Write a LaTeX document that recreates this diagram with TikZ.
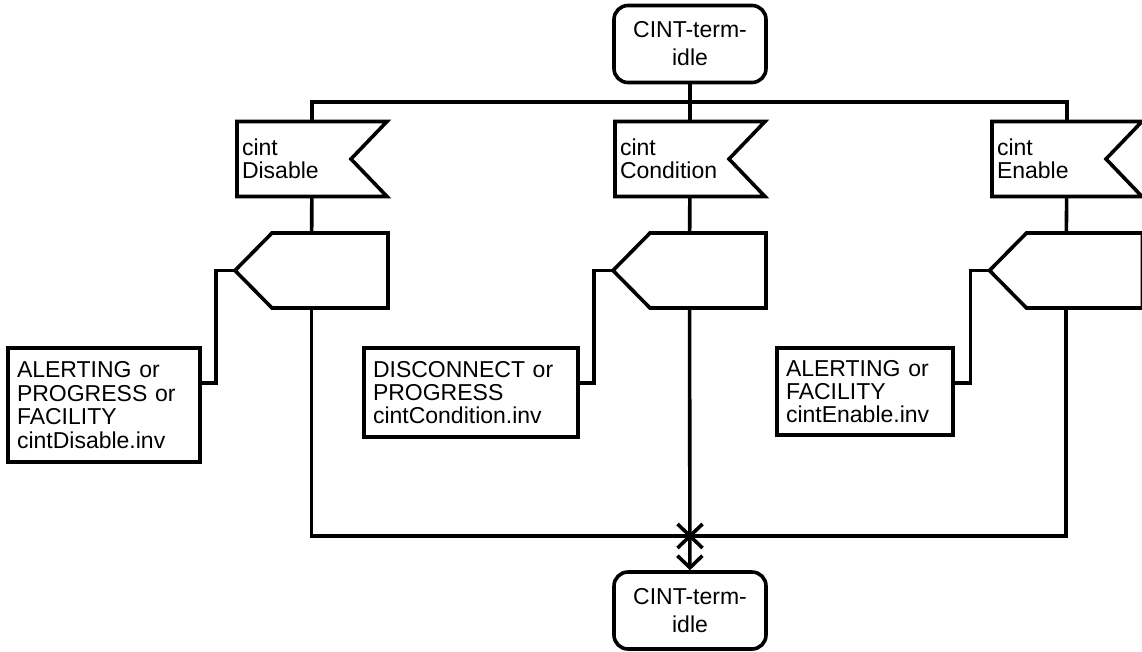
\documentclass[tikz,border=0pt]{standalone}
\usepackage{fontspec}
\setmainfont{Liberation Sans}
\usetikzlibrary{arrows.meta,calc}
\newcommand\sdlsize{\fontsize{23}{23.4}\selectfont}
\def\inflag(#1){\draw (#1.north west) -- (#1.north east) -- ([xshift=-36pt]#1.east) -- (#1.south east) -- (#1.south west) -- cycle;}
\def\outpent(#1){\draw (#1.north east) -- (#1.south east) -- ([xshift=37pt]#1.south west) -- (#1.west) -- ([xshift=37pt]#1.north west) -- cycle;}
\tikzset{
	sdlstate/.style={draw, rounded corners=14pt, minimum width=152pt, minimum height=77pt, inner sep=0pt, align=center, font=\fontsize{23}{28}\selectfont},
	sdlinput/.style={minimum height=75pt, text width=140pt, inner xsep=5pt, inner ysep=0pt, outer sep=0pt, align=left, font=\sdlsize},
	sdlout/.style={minimum width=153pt, minimum height=75pt, inner sep=0pt, outer sep=0pt},
	sdltext/.style={draw, align=left, inner xsep=9pt, inner ysep=0pt, outer sep=0pt, font=\sdlsize}
}

\begin{document}
\begin{tikzpicture}[x=1pt, y=-1pt, line width=3.6pt, >={Straight Barb[length=12pt,width=25pt]}]
			\useasboundingbox (0,0) rectangle (1142,651);
			
			%%%%% STATES %%%%%
			\node[sdlstate] (idleTop) at (690,44) {CINT-term-\\idle};
			\node[sdlstate] (idleBot) at (690,610.5) {CINT-term-\\idle};
			
			%%%%% INPUTS %%%%%
			\node[sdlinput] (inDisable) at (312,159) {cint\\Disable};
			\node[sdlinput] (inCondition) at (690,159) {cint\\Condition};
			\node[sdlinput] (inEnable) at (1067,159) {cint\\Enable};
			\inflag(inDisable)
			\inflag(inCondition)
			\inflag(inEnable)
			
			%%%%% OUTPUTS %%%%%
			\node[sdlout] (outDisable) at (311.5,270.5) {};
			\node[sdlout] (outCondition) at (689.5,270.5) {};
			\node[sdlout] (outEnable) at (1066,270.5) {};
			\outpent(outDisable)
			\outpent(outCondition)
			\outpent(outEnable)
			
			\node[sdltext, text width=174pt, minimum height=114pt] (txtDisable) at (104,405) {ALERTING~or\\PROGRESS~or\\FACILITY\\cintDisable.inv};
			\node[sdltext, text width=196pt, minimum height=89pt] (txtCondition) at (471,392.5) {DISCONNECT~or\\PROGRESS\\cintCondition.inv};
			\node[sdltext, text width=158pt, minimum height=87pt] (txtEnable) at (865,391.5) {ALERTING~or\\FACILITY\\cintEnable.inv};
			
			%%%%% LINES %%%%%
			\coordinate (bus) at (690,102);
			\coordinate (merge) at (690,536);
			
			\draw (idleTop) -- (inCondition);
			\draw (inDisable.north) |- (bus) -| (inEnable.north);
			
			\draw (inDisable) -- (outDisable);
			\draw (inEnable) -- (outEnable);
			\draw (inCondition) -- (outCondition);
			
			\draw (outDisable.west) -- ++(-19,0) |- ([yshift=-35pt]txtDisable.north east);
			\draw (outCondition.west) -- ++(-19,0) |- ([yshift=-35pt]txtCondition.north east);
			\draw (outEnable.west) -- ++(-19,0) |- ([yshift=-35pt]txtEnable.north east);
			
			\draw (outDisable.south) |- (merge) -| (outEnable.south);
			\draw[->] (outCondition) -- (idleBot);
			\draw ($(merge)+(-12.5,-12)$) -- ($(merge)+(12.5,12)$) ($(merge)+(-12.5,12)$) -- ($(merge)+(12.5,-12)$);
			
		\end{tikzpicture}
\end{document}
